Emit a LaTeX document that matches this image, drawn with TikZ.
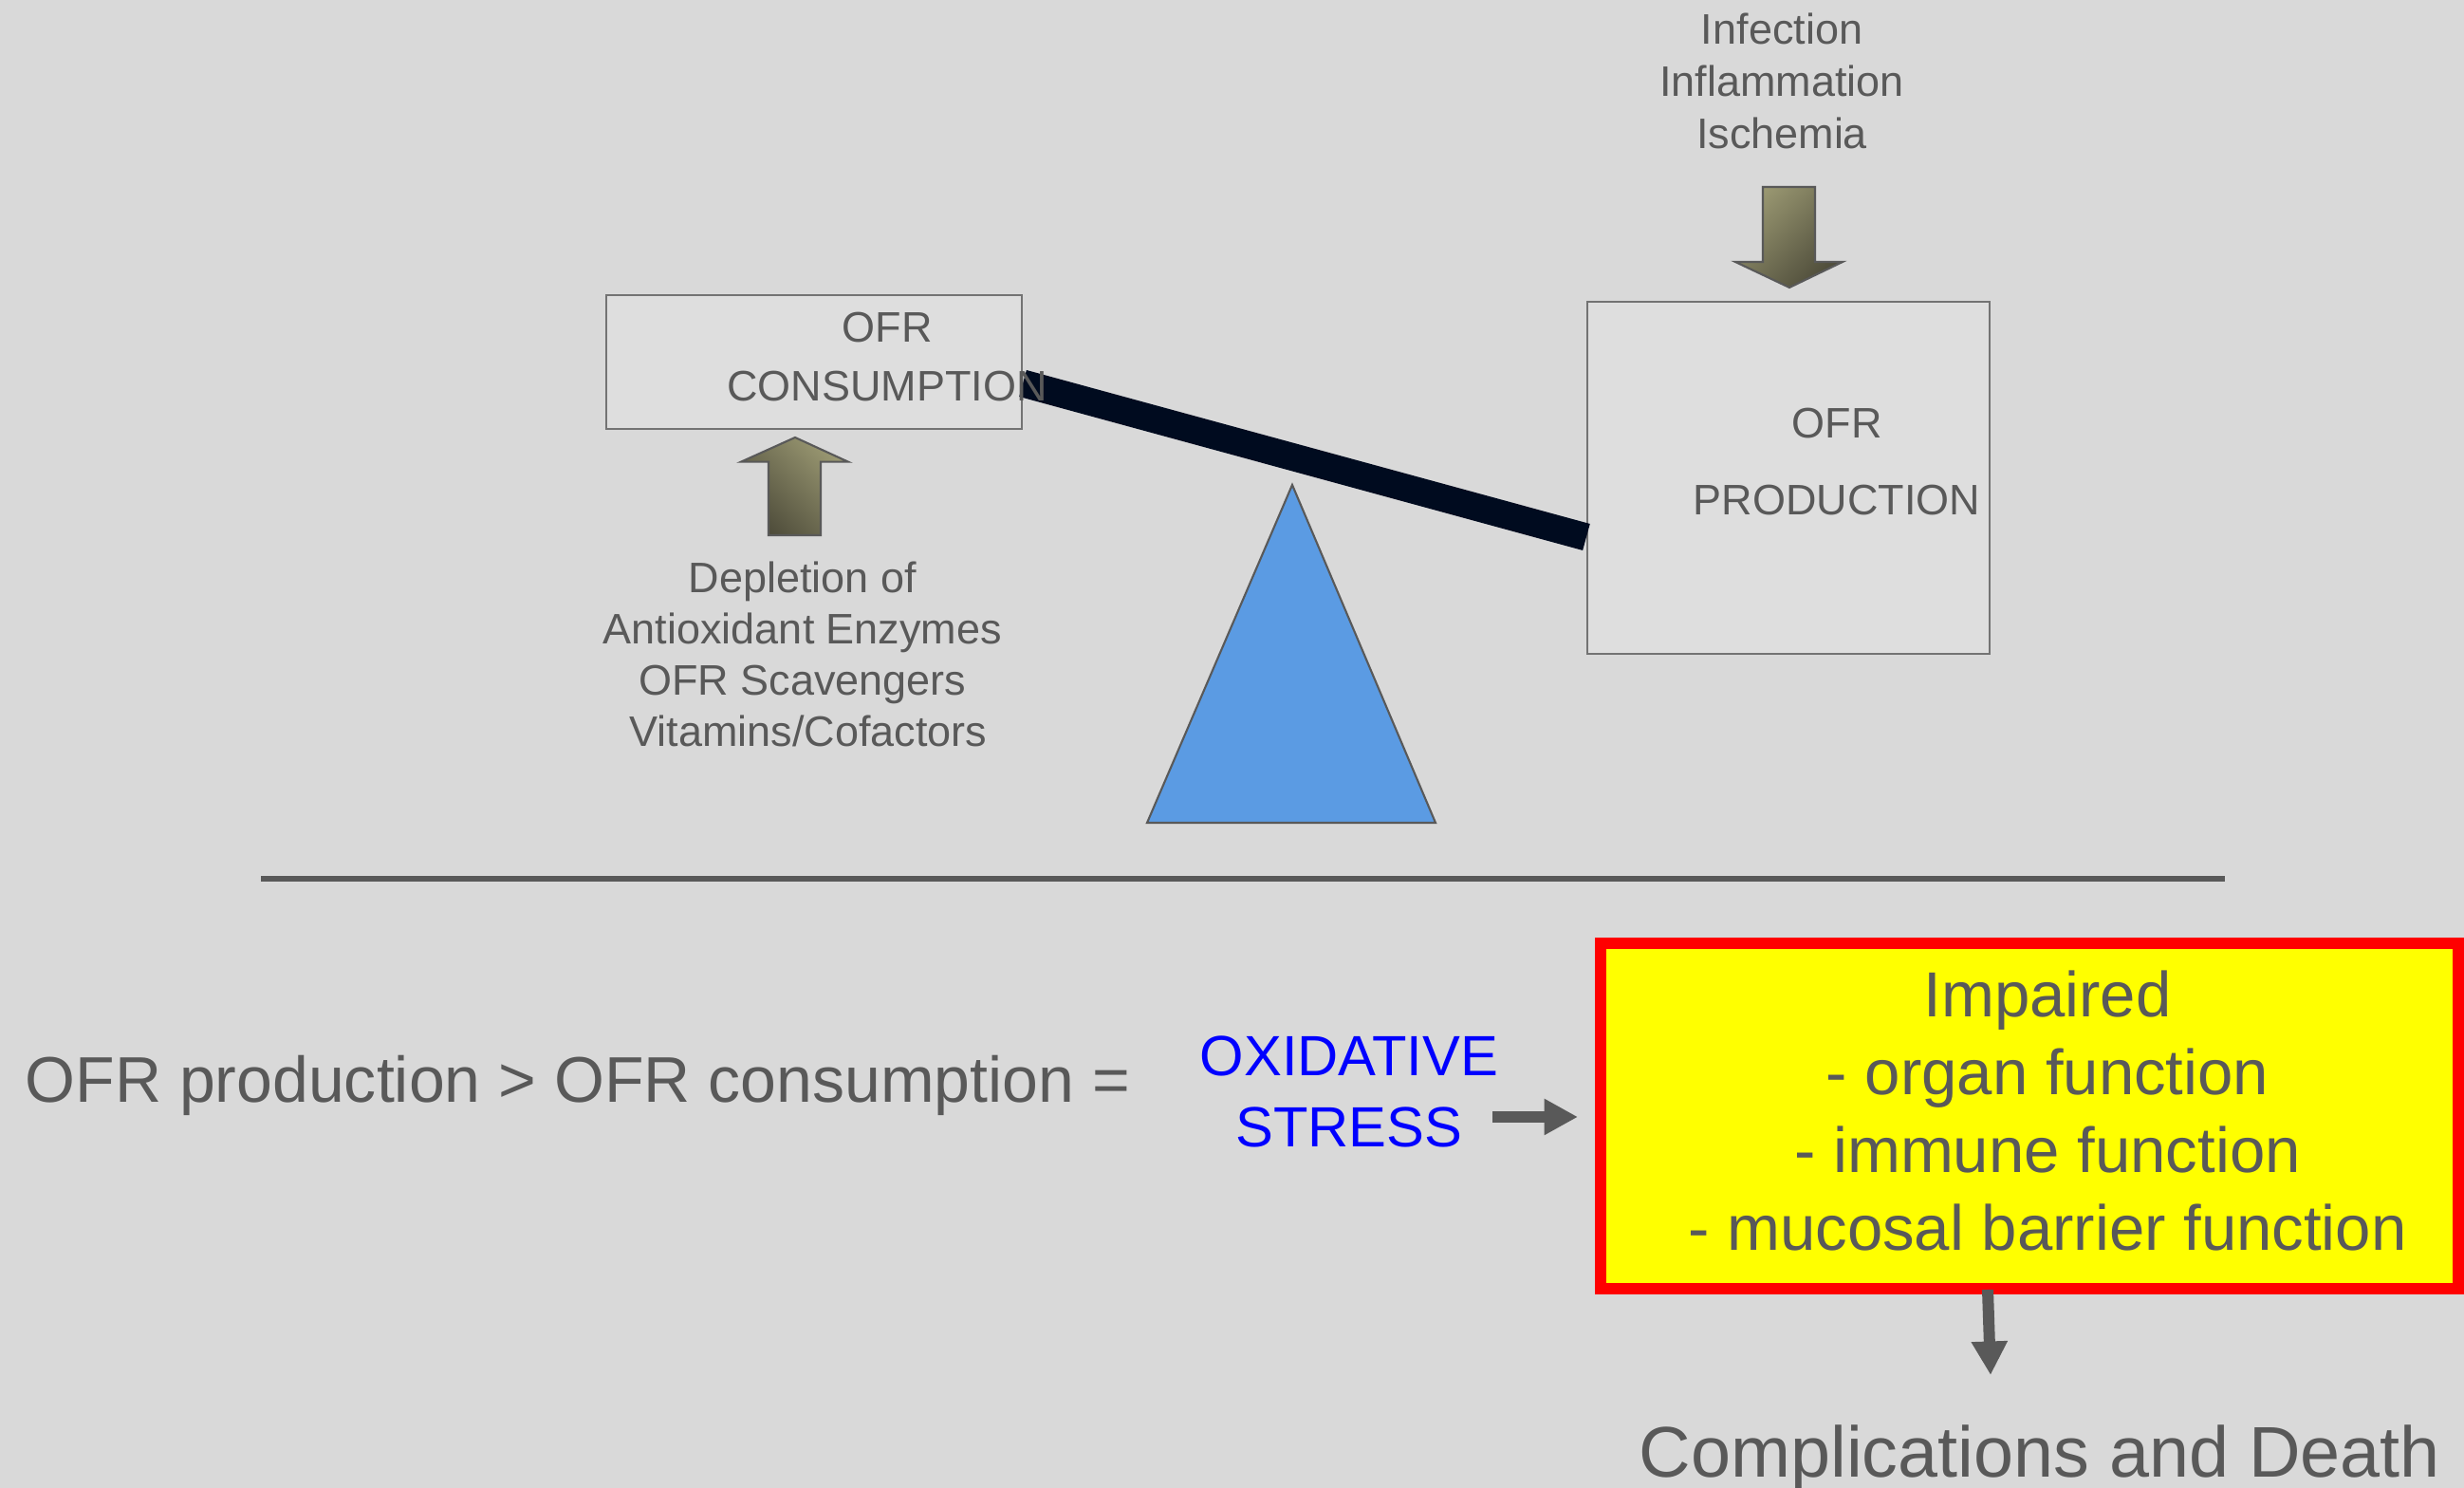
\documentclass[tikz,border=0pt]{standalone}
\usepackage{fontspec}
\setmainfont{Liberation Sans}
\usetikzlibrary{arrows.meta,calc}
\definecolor{bg}{HTML}{D9D9D9}
\definecolor{txtgray}{HTML}{595959}
\definecolor{beamnavy}{HTML}{000B1F}
\definecolor{fulcrumblue}{HTML}{5B9BE3}
\definecolor{khakilight}{HTML}{9A9872}
\definecolor{khakidark}{HTML}{4E4C3A}
\definecolor{warnyellow}{HTML}{FFFF00}
\definecolor{warnred}{HTML}{FF0000}
\tikzset{
    ofrbox/.style={draw=black!55, fill=black!13, line width=0.6pt, inner sep=0pt},
    beam/.style={draw=beamnavy, line width=0.29cm},
    fulcrum/.style={draw=txtgray, fill=fulcrumblue, line width=0.6pt, line join=miter},
    separator/.style={draw=txtgray, line width=0.06cm},
    blockarrow/.style={draw=txtgray, line width=0.6pt, top color=khakilight, bottom color=khakidark},
    pointer/.style={draw=txtgray, line width=0.12cm, -{Triangle[length=0.355cm,width=0.36cm]}},
    smalltxt/.style={text=txtgray, font=\fontsize{12.8}{15}\selectfont, anchor=base, inner sep=0pt},
    bigtxt/.style={text=txtgray, font=\fontsize{19.1}{23}\selectfont, anchor=base, inner sep=0pt},
    stresstxt/.style={text=blue, font=\fontsize{17}{20}\selectfont, anchor=base, inner sep=0pt},
}
\begin{document}
\begin{tikzpicture}
  %BACKGROUND
  \useasboundingbox (0,0) rectangle (25.97,15.68);
  \fill[bg] (0,0) rectangle (25.97,15.68);

  %BOXES OF THE BALANCE
  \node[ofrbox, minimum width=4.38cm, minimum height=1.41cm] (cons) at (8.58,11.865) {};
  \node[ofrbox, minimum width=4.24cm, minimum height=3.71cm] (prod) at (18.85,10.645) {};

  %BEAM
  \draw[beam] ($(cons.east)+(0,-0.225)$) -- ($(prod.west)+(0,-0.625)$);

  %FULCRUM
  \draw[fulcrum] (12.09,7.01) coordinate (F1) -- (13.62,10.57) coordinate (F2) -- (15.13,7.01) coordinate (F3) -- cycle;

  %BOX TEXTS
  \node[smalltxt] (consA) at (9.35,12.07) {OFR};
  \node[smalltxt] (consB) at (9.35,11.45) {CONSUMPTION};
  \node[smalltxt] (prodA) at (19.36,11.06) {OFR};
  \node[smalltxt] (prodB) at (19.36,10.25) {PRODUCTION};

  %BLOCK ARROWS
  \draw[blockarrow, shading angle=-45] (8.10,10.04) -- (8.10,10.813) -- (7.81,10.813) -- (8.38,11.07)
        -- (8.94,10.813) -- (8.65,10.813) -- (8.65,10.04) -- cycle;
  \draw[blockarrow, shading angle=45] (18.58,13.71) -- (18.58,12.92) -- (18.29,12.92) -- (18.86,12.65)
        -- (19.42,12.92) -- (19.13,12.92) -- (19.13,13.71) -- cycle;

  %CAUSES
  \foreach \txt [count=\i] in {Infection, Inflammation, Ischemia}
    \node[smalltxt] (cause\i) at (18.78,15.76-0.55*\i) {\txt};

  %DEPLETION
  \foreach \txt/\xx [count=\i] in {Depletion of/8.46, Antioxidant Enzymes/8.46, OFR Scavengers/8.46, {Vitamins/Cofactors}/8.52}
    \node[smalltxt] (depl\i) at (\xx,9.97-0.54*\i) {\txt};

  %SEPARATOR
  \draw[separator] (2.75,6.42) -- (23.45,6.42);

  %BALANCE EQUATION
  \node[bigtxt, anchor=base west, font=\fontsize{19.35}{23}\selectfont] (eq) at (0.26,4.06) {OFR production > OFR consumption =};
  \node[stresstxt] (oxid) at (14.22,4.34) {OXIDATIVE};
  \node[stresstxt] (stress) at (14.22,3.59) {STRESS};

  %EFFECTS
  \node[draw=warnred, fill=warnyellow, line width=0.12cm, minimum width=9.04cm, minimum height=3.64cm] (effect) at (21.39,3.92) {};
  \foreach \txt [count=\i] in {Impaired, - organ function, - immune function, - mucosal barrier function}
    \node[bigtxt] (eff\i) at (21.58,5.78-0.82*\i) {\txt};

  %ARROWS
  \coordinate (stressout) at (15.73,3.91);
  \draw[pointer] (stressout) -- (stressout -| effect.west) [shorten >=0.18cm];
  \coordinate (deathin) at (20.98,1.19);
  \draw[pointer] ([xshift=-0.44cm,yshift=0.05cm]effect.south) -- (deathin);

  %OUTCOME
  \node[bigtxt, font=\fontsize{21.5}{25}\selectfont] (death) at (21.50,0.11) {Complications and Death};
\end{tikzpicture}
\end{document}
